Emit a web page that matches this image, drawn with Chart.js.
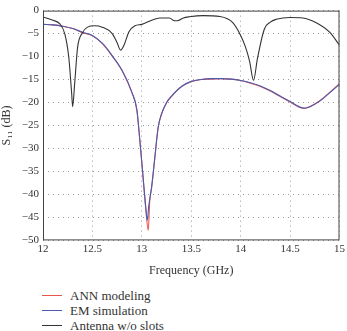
<!DOCTYPE html>
<html>
<head>
<meta charset="utf-8">
<script src="https://cdn.jsdelivr.net/npm/chart.js@4/dist/chart.umd.min.js"></script>
<style>
  body { margin: 0; background: #fff; }
  #wrap { position: relative; width: 347px; height: 331px; }
  #box { position: absolute; left: 0; top: 0; width: 347px; height: 282px; }
  #legend { position: absolute; left: 42px; top: 288px; font-family: "Liberation Serif", "DejaVu Serif", serif; font-size: 13px; color: #333; }
  #legend div { height: 15px; line-height: 15px; display: flex; align-items: center; }
  #legend span.ln { display: inline-block; width: 20px; height: 1px; margin-right: 8px; }
</style>
</head>
<body>
<div id="wrap">
  <div id="box"><canvas id="c"></canvas></div>
  <div id="legend"></div>
</div>
<script>
// EM simulation / ANN modeling (S11 in dB vs frequency in GHz)
const emFreq = [12.0, 12.1, 12.2, 12.3, 12.4, 12.5, 12.6, 12.7, 12.8, 12.9, 12.95, 12.98, 13.0, 13.02, 13.04, 13.055, 13.07, 13.1, 13.13, 13.165, 13.2, 13.25, 13.3, 13.4, 13.5, 13.6, 13.7, 13.8, 13.9, 14.0, 14.1, 14.2, 14.3, 14.4, 14.5, 14.6, 14.65, 14.7, 14.8, 14.9, 15.0];
const emS11 = [-3.0, -3.1, -3.4, -3.9, -4.7, -5.4, -7.1, -9.8, -13.0, -17.8, -21.6, -28.2, -33.0, -38.0, -42.8, -45.6, -42.5, -38.2, -32.2, -25.4, -22.4, -20.0, -18.6, -16.5, -15.4, -15.0, -14.8, -14.8, -14.9, -15.2, -15.7, -16.4, -17.4, -18.6, -19.8, -21.0, -21.2, -20.9, -19.7, -17.9, -16.0];
const annFreq = [12.0, 12.1, 12.2, 12.3, 12.4, 12.5, 12.6, 12.7, 12.8, 12.9, 12.95, 12.98, 13.0, 13.02, 13.04, 13.065, 13.08, 13.1, 13.13, 13.165, 13.2, 13.25, 13.3, 13.4, 13.5, 13.6, 13.7, 13.8, 13.9, 14.0, 14.1, 14.2, 14.3, 14.4, 14.5, 14.6, 14.65, 14.7, 14.8, 14.9, 15.0];
const annS11 = [-3.0, -3.1, -3.4, -3.9, -4.8, -5.5, -7.2, -9.9, -13.1, -17.9, -21.7, -28.4, -33.2, -38.3, -43.2, -47.8, -41.5, -38.4, -32.4, -25.5, -22.5, -20.1, -18.7, -16.6, -15.5, -15.0, -14.9, -14.8, -14.9, -15.2, -15.8, -16.5, -17.5, -18.7, -19.9, -21.1, -21.3, -20.9, -19.6, -17.8, -15.9];
// Antenna without slots
const noSlotFreq = [12.0, 12.1, 12.17, 12.22, 12.26, 12.29, 12.3, 12.32, 12.35, 12.4, 12.45, 12.52, 12.6, 12.7, 12.75, 12.785, 12.82, 12.87, 12.93, 13.0, 13.1, 13.18, 13.28, 13.33, 13.36, 13.42, 13.48, 13.62, 13.79, 13.92, 14.0, 14.05, 14.09, 14.13, 14.17, 14.24, 14.3, 14.36, 14.5, 14.63, 14.76, 14.9, 15.0];
const noSlotS11 = [-1.4, -2.1, -2.9, -5.0, -10.0, -18.0, -20.9, -16.0, -8.0, -4.8, -3.6, -3.3, -3.6, -5.0, -7.0, -8.6, -7.5, -4.6, -3.3, -3.0, -2.1, -1.6, -1.6, -2.2, -2.2, -1.6, -1.35, -1.1, -1.3, -2.6, -5.4, -8.0, -11.0, -15.2, -10.4, -4.0, -2.5, -1.9, -1.5, -1.6, -2.6, -4.7, -7.5];

const seriesNames = ["ANN modeling", "EM simulation", "Antenna w/o slots"];
const seriesColors = ["#e8544e", "#4a5bb0", "#333333"];

const toPts = (xs, ys) => xs.map((x, i) => ({ x, y: ys[i] }));
const serif = "'Liberation Serif', 'DejaVu Serif', serif";

// frame round the plot area
const frame = {
  id: "frame",
  afterDraw(chart) {
    const a = chart.chartArea, ctx = chart.ctx;
    ctx.save();
    ctx.strokeStyle = "#444";
    ctx.lineWidth = 1;
    ctx.strokeRect(a.left + 0.5, a.top + 0.5, a.right - a.left - 1, a.bottom - a.top - 1);
    ctx.restore();
  }
};

const ctx = document.getElementById("c").getContext("2d");
new Chart(ctx, {
  type: "line",
  data: {
    datasets: [
      { label: seriesNames[2], data: toPts(noSlotFreq, noSlotS11), borderColor: seriesColors[2] },
      { label: seriesNames[1], data: toPts(emFreq, emS11), borderColor: seriesColors[1] },
      { label: seriesNames[0], data: toPts(annFreq, annS11), borderColor: seriesColors[0] }
    ].map(d => Object.assign(d, { borderWidth: 1.1, pointRadius: 0, cubicInterpolationMode: "monotone", fill: false }))
  },
  options: {
    responsive: true,
    maintainAspectRatio: false,
    animation: false,
    layout: { padding: { top: 3, right: 6, left: 0, bottom: 0 } },
    plugins: { legend: { display: false }, tooltip: { enabled: false } },
    scales: {
      x: {
        type: "linear", min: 12, max: 15,
        ticks: { stepSize: 0.5, color: "#333", font: { family: serif, size: 11 }, padding: 2, maxRotation: 0,
          callback: v => String(+v.toFixed(1)) },
        grid: { color: "#999", drawTicks: false },
        border: { display: false, dash: [1, 4] },
        title: { display: true, text: "Frequency (GHz)", color: "#333", font: { family: serif, size: 12 }, padding: { top: 6 } }
      },
      y: {
        min: -50, max: 0,
        afterFit(s) { s.width = 43; },
        ticks: { stepSize: 5, color: "#333", font: { family: serif, size: 11 }, padding: 4,
          callback: v => String(v).replace("-", "\u2212") },
        grid: { color: "#999", drawTicks: false },
        border: { display: false, dash: [1, 4] },
        title: { display: true, text: "S\u2081\u2081 (dB)", color: "#333", font: { family: serif, size: 12 }, padding: 0 }
      }
    }
  },
  plugins: [frame]
});

// legend, one entry per row
const leg = document.getElementById("legend");
seriesNames.forEach((n, i) => {
  const row = document.createElement("div");
  row.innerHTML = '<span class="ln" style="background:' + seriesColors[i] + '"></span>' + n;
  leg.appendChild(row);
});
</script>
</body>
</html>
